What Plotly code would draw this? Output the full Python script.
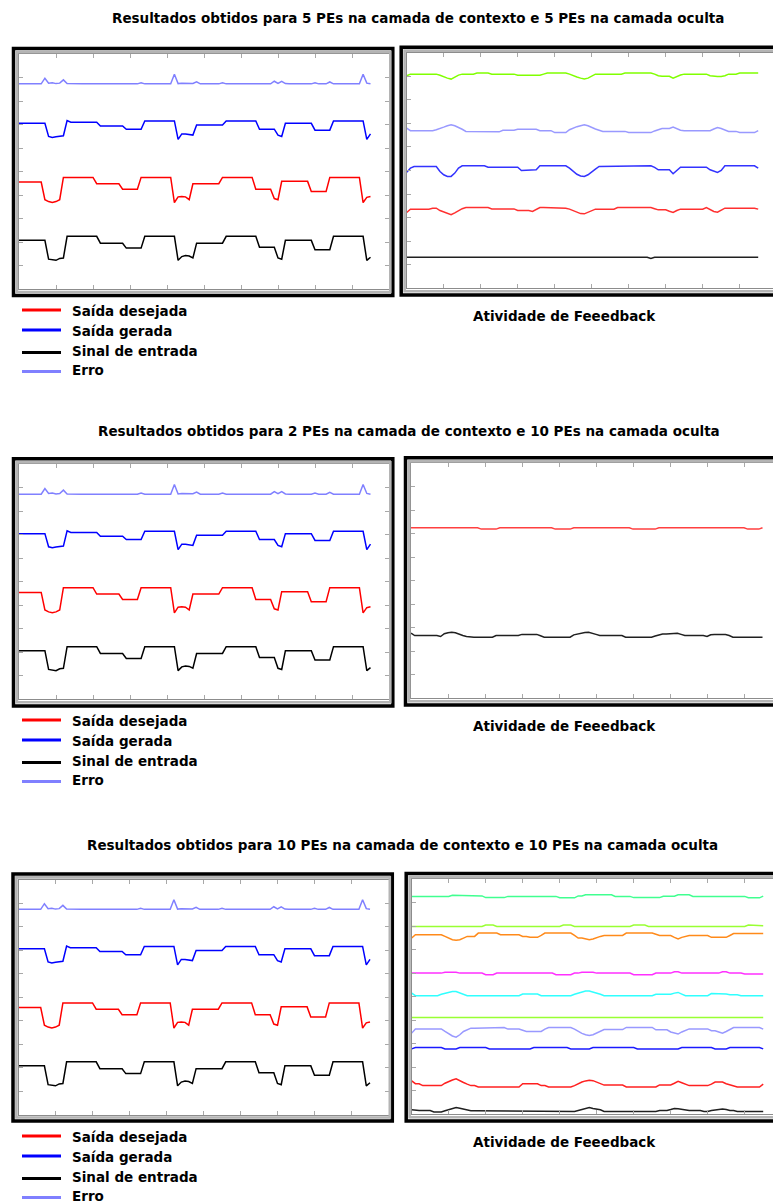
import plotly.graph_objects as go

FIG_W, FIG_H = 773, 1204

# sample index shared by every recorded trace
samples = list(range(96))

# ---- network response (left panels) ----
input_signal = ([2.07] * 8 + [1.27, 1.24, 1.22, 1.30, 1.32] + [2.24] * 9 + [1.95] * 7
                + [1.74] * 5 + [2.24] * 9 + [1.22, 1.38, 1.42, 1.40, 1.32] + [1.95] * 8
                + [2.24] * 9 + [1.78] * 5 + [1.32, 1.27] + [2.07] * 8 + [1.67] * 5
                + [2.24] * 9 + [1.22, 1.35])
desired_output = ([4.55] * 7 + [3.80, 3.72, 3.68, 3.72, 3.80] + [4.75] * 9 + [4.48] * 7
                  + [4.25] * 5 + [4.75] * 9 + [3.68, 3.92, 3.94, 3.92, 3.80] + [4.48] * 8
                  + [4.75] * 9 + [4.25] * 5 + [3.85, 3.80] + [4.58] * 8 + [4.15] * 5
                  + [4.75] * 9 + [3.68, 3.90, 3.94])
network_output = ([7.05] * 8 + [6.49, 6.45, 6.48, 6.49, 6.52] + [7.17] + [7.10] * 8
                  + [6.94] * 7 + [6.80] * 5 + [7.15] * 9 + [6.37, 6.60, 6.60, 6.58, 6.55]
                  + [6.98] * 8 + [7.15] * 9 + [6.80] * 5 + [6.55, 6.49] + [7.05] * 8
                  + [6.76] * 5 + [7.15] * 9 + [6.37, 6.60])
error_signal = ([8.73] * 7 + [8.97, 8.76, 8.78, 8.74, 8.76, 8.90, 8.74] + [8.73] * 19 + [8.78]
                + [8.73] * 8 + [9.14, 8.74, 8.76, 8.76, 8.78, 8.75, 8.82] + [8.73] * 6 + [8.78]
                + [8.73] * 8 + [8.76] + [8.73] * 4 + [8.84, 8.75, 8.84, 8.74] + [8.73] * 7
                + [8.78] + [8.73] * 3 + [8.81] + [8.73] * 8 + [9.14, 8.76, 8.73])

# ---- feedback activity, 5 context PEs ----
fb5_green = ([9.02] + [9.09] * 8 + [9.04, 8.97, 8.92, 8.88, 8.97, 9.05] + [9.09] * 4 + [9.14] * 4
             + [9.09] * 7 + [9.04] * 7 + [9.09] + [9.14] * 6
             + [9.09, 9.02, 8.97, 8.92, 8.88, 8.92, 9.00] + [9.09] * 8 + [9.14] * 8 + [9.09]
             + [9.02] + [9.00] * 3 + [8.92, 9.00, 9.05] + [9.09] * 7 + [9.02] + [8.99] * 3
             + [9.02] + [9.09] * 3 + [9.14] * 6)
fb5_lavender = ([6.80] + [6.69] * 7 + [6.73, 6.77, 6.84, 6.90, 6.94, 6.90, 6.84, 6.75] + [6.66] * 6
                + [6.64] * 4 + [6.71] * 4 + [6.75] * 6 + [6.69] * 4 + [6.61] * 4
                + [6.73, 6.80, 6.86, 6.90, 6.94, 6.90, 6.82, 6.76, 6.71] + [6.66] * 7
                + [6.61] * 7 + [6.68, 6.73] + [6.78] * 3 + [6.84, 6.78, 6.71] + [6.69] * 8
                + [6.76, 6.82, 6.78, 6.73] + [6.66] * 3 + [6.61] * 5 + [6.69])
fb5_blue = ([4.92, 5.10] + [5.17] * 7 + [4.96, 4.82, 4.75, 4.75, 4.89, 5.10] + [5.20] * 7
            + [5.14] * 9 + [5.00] * 4 + [5.03] + [5.20] * 8
            + [5.10, 4.96, 4.84, 4.77, 4.75, 4.82, 4.96, 5.06] + [5.17] * 8 + [5.20] * 7
            + [5.13] + [5.03] * 4 + [4.86, 5.00] + [5.14] * 8 + [5.03, 4.96, 4.92, 5.00]
            + [5.20] * 9 + [5.10])
fb5_red = ([3.22] + [3.36] * 6 + [3.40] * 2 + [3.30, 3.24, 3.16, 3.12, 3.20, 3.30, 3.38]
           + [3.43] * 7 + [3.37] * 7 + [3.30] * 4 + [3.26, 3.36] + [3.43] * 7
           + [3.40, 3.36, 3.30, 3.22, 3.17, 3.16, 3.22, 3.30] + [3.36] * 6 + [3.43] * 10
           + [3.38] + [3.33] * 3 + [3.27, 3.22, 3.30] + [3.36] * 7
           + [3.43, 3.33, 3.26, 3.23, 3.33] + [3.40] * 9 + [3.36])
fb5_black = [1.32] * 66 + [1.27] + [1.32] * 29

# ---- feedback activity, 2 context PEs ----
fb2_red = ([7.26] * 19 + [7.20] * 5 + [7.26] * 15 + [7.20] * 5 + [7.26] * 16 + [7.20] * 7
           + [7.26] * 24 + [7.20] * 4 + [7.26])
fb2_black = ([2.77] + [2.67] * 7 + [2.63, 2.75, 2.79, 2.81, 2.79, 2.72, 2.67, 2.63] + [2.60] * 7
             + [2.67] * 7 + [2.72] * 5 + [2.66] + [2.60] * 8
             + [2.70, 2.74, 2.77, 2.80, 2.81, 2.78, 2.72] + [2.67] * 7 + [2.60] * 8
             + [2.65, 2.71] + [2.74] * 4 + [2.77, 2.72] + [2.67] * 6 + [2.63, 2.70]
             + [2.71] * 4 + [2.67] + [2.60] * 9)

# ---- feedback activity, 10 context PEs ----
fb10_mint = ([9.26] * 11 + [9.31] * 7 + [9.28] * 2 + [9.21] * 6 + [9.26] * 14 + [9.20] * 5
             + [9.28] * 2 + [9.33] * 8 + [9.26] * 5 + [9.21] * 8 + [9.27] * 4 + [9.33] * 4
             + [9.26] * 15 + [9.20] * 4 + [9.27])
fb10_lime = ([7.98] * 20 + [8.04] * 3 + [7.98] * 18 + [8.04] * 3 + [7.98] * 16 + [8.04] * 4
             + [7.98] * 27 + [8.04] * 4 + [8.01])
fb10_orange = ([7.49] + [7.63] * 8 + [7.56, 7.49, 7.42, 7.40, 7.42, 7.49] + [7.56] * 3
               + [7.70] * 6 + [7.63] * 6 + [7.56] * 2 + [7.52] * 3 + [7.60] + [7.70] * 8
               + [7.60] + [7.49] * 2 + [7.45, 7.42, 7.45, 7.52, 7.56] + [7.60] * 6
               + [7.70] * 8 + [7.65] + [7.60] * 4 + [7.52, 7.45, 7.52, 7.56] + [7.60] * 6
               + [7.52] * 5 + [7.60] + [7.68] * 9)
fb10_magenta = ([6.00] * 9 + [6.04] * 4 + [6.00] * 7 + [5.93] * 3 + [6.00] * 16 + [5.93] * 5
                + [6.00] * 2 + [6.04] * 4 + [6.00] * 10 + [5.93] * 6 + [6.00] * 5 + [6.06] * 2
                + [6.00] * 11 + [6.06] * 2 + [6.00] * 4 + [5.96] * 6)
fb10_cyan = ([5.15] + [5.04] * 7 + [5.10, 5.15, 5.18, 5.22, 5.22, 5.15, 5.10] + [5.04] * 15
             + [5.11] * 5 + [5.04] * 9 + [5.10, 5.15, 5.18, 5.24, 5.24, 5.20, 5.15, 5.10]
             + [5.04] * 14 + [5.10] * 5 + [5.15, 5.18, 5.11] + [5.04] * 7 + [5.13] * 2
             + [5.11] * 3 + [5.08] * 3 + [5.04] * 7)
fb10_yellowgreen = [4.11] * 96
fb10_lavender = ([3.45] + [3.63] * 8 + [3.52, 3.42, 3.33, 3.28, 3.38, 3.52, 3.59] + [3.66] * 4
                 + [3.69] * 6 + [3.62] * 4 + [3.57] + [3.52] * 5 + [3.62] + [3.69] * 7
                 + [3.62, 3.52, 3.44, 3.38, 3.35, 3.38, 3.45, 3.52] + [3.60] * 6 + [3.69] * 8
                 + [3.59] * 4 + [3.50, 3.45, 3.41, 3.50, 3.57] + [3.63] * 6 + [3.55] * 2
                 + [3.50, 3.45, 3.52, 3.62] + [3.69] * 8 + [3.62])
fb10_blue = ([2.78] + [2.84] * 8 + [2.78] * 4 + [2.84] * 8 + [2.78] * 12 + [2.84] * 10
             + [2.78] * 6 + [2.84] * 12 + [2.78] * 12 + [2.84] * 9 + [2.78] * 4 + [2.84] * 9
             + [2.78])
fb10_red = ([1.42] + [1.30] * 2 + [1.22] * 6 + [1.32, 1.40, 1.46, 1.51, 1.42, 1.35, 1.28]
            + [1.22] * 2 + [1.16] * 12 + [1.30] * 5 + [1.22] * 2 + [1.16] * 7
            + [1.22, 1.30, 1.37, 1.42, 1.45, 1.43, 1.37, 1.31] + [1.24] * 6 + [1.16] * 9
            + [1.25] * 4 + [1.32, 1.40, 1.34, 1.28] + [1.22] * 6 + [1.28] + [1.37] * 3
            + [1.30, 1.25, 1.20] + [1.16] * 7 + [1.28])
fb10_black = ([0.19] + [0.16] * 5 + [0.10] * 3 + [0.15, 0.19, 0.24, 0.29, 0.26, 0.22, 0.18]
              + [0.15] * 4 + [0.12] * 25 + [0.16, 0.21, 0.25, 0.29, 0.25, 0.22, 0.19]
              + [0.12] * 15 + [0.16] * 3 + [0.20, 0.25, 0.24, 0.21, 0.19] + [0.16] * 4
              + [0.12] * 2 + [0.16, 0.18] + [0.23] * 2 + [0.20] + [0.16] * 2 + [0.12] * 8)

titles = [
    "Resultados obtidos para 5 PEs na camada de contexto e 5 PEs na camada oculta",
    "Resultados obtidos para 2 PEs na camada de contexto e 10 PEs na camada oculta",
    "Resultados obtidos para 10 PEs na camada de contexto e 10 PEs na camada oculta",
]
legend_labels = ["Saída desejada", "Saída gerada", "Sinal de entrada", "Erro"]
legend_colors = ["#ff0000", "#0000ff", "#000000", "#8080ff"]
feedback_label = "Atividade de Feeedback"

response_series = [
    (error_signal, "#8080ff"),
    (network_output, "#0000ff"),
    (desired_output, "#ff0000"),
    (input_signal, "#000000"),
]
feedback_series = [
    [(fb5_green, "#80ff00"), (fb5_lavender, "#9999ff"), (fb5_blue, "#3333ff"),
     (fb5_red, "#ff3030"), (fb5_black, "#202020")],
    [(fb2_red, "#ff4040"), (fb2_black, "#202020")],
    [(fb10_mint, "#40ff90"), (fb10_lime, "#99ff33"), (fb10_orange, "#ff8a1a"),
     (fb10_magenta, "#ff30ff"), (fb10_cyan, "#30ffff"), (fb10_yellowgreen, "#99ff33"),
     (fb10_lavender, "#9999ff"), (fb10_blue, "#1a1aff"), (fb10_red, "#ff2020"),
     (fb10_black, "#202020")],
]

# plot areas in pixels (left, top, right, bottom)
response_boxes = [(19.0, 54.0, 389.0, 289.0),
                  (19.0, 464.3, 389.0, 699.3),
                  (18.5, 879.5, 388.5, 1114.5)]
feedback_boxes = [(406.7, 52.7, 776.7, 288.3),
                  (411.0, 463.3, 781.0, 698.3),
                  (411.7, 879.0, 781.7, 1114.3)]
title_pos = [(418, 18), (408.5, 431), (403, 845)]
legend_top = [311, 721, 1137]
feedback_label_y = [316, 726, 1142]


def px(x):
    return x / FIG_W


def py(y):
    return 1 - y / FIG_H


fig = go.Figure()
shapes = []
annotations = []
TEXT_FONT = dict(family="DejaVu Sans", size=13.5, color="#000000", weight="bold")


def frame(box):
    left, top, right, bottom = box
    shapes.append(dict(type="rect", xref="paper", yref="paper", layer="above",
                       x0=px(left - 5.5), x1=px(right + 3.8),
                       y0=py(bottom + 6.6), y1=py(top - 5.5),
                       line=dict(color="#000000", width=3.5)))
    shapes.append(dict(type="rect", xref="paper", yref="paper", layer="above",
                       x0=px(left - 2.1), x1=px(right + 1.3),
                       y0=py(bottom + 3.0), y1=py(top - 2.1),
                       line=dict(color="#b4b4b4", width=2.6)))


def add_panel(idx, box, series, mirror_y=True):
    left, top, right, bottom = box
    vis_right = min(right, FIG_W)
    x_max = 100 * (vis_right - left) / (right - left)
    xname = "x" if idx == 1 else f"x{idx}"
    yname = "y" if idx == 1 else f"y{idx}"
    common = dict(showgrid=False, zeroline=False, showticklabels=False,
                  ticks="inside", ticklen=4, tickwidth=1, tickcolor="#a8a8a8",
                  showline=True, linecolor="#8c8c8c", linewidth=1, fixedrange=True)
    fig.layout["xaxis" if idx == 1 else f"xaxis{idx}"] = dict(
        domain=[px(left), px(vis_right)], range=[0, x_max], anchor=yname,
        tickmode="array", tickvals=[10, 20, 30, 40, 50, 60, 70, 80, 90],
        mirror="ticks", **common)
    fig.layout["yaxis" if idx == 1 else f"yaxis{idx}"] = dict(
        domain=[py(bottom), py(top)], range=[0, 10], anchor=xname,
        tickmode="array", tickvals=[1, 2, 3, 4, 5, 6, 7, 8, 9],
        mirror="ticks" if mirror_y else False, **common)
    for values, color in series:
        fig.add_trace(go.Scatter(x=samples[:len(values)], y=values, mode="lines",
                                 line=dict(color=color, width=1.5),
                                 xaxis=xname, yaxis=yname, hoverinfo="skip"))
    frame(box)


for row in range(3):
    add_panel(2 * row + 1, response_boxes[row], response_series)
    add_panel(2 * row + 2, feedback_boxes[row], feedback_series[row], mirror_y=False)

    tx, ty = title_pos[row]
    annotations.append(dict(text=titles[row], x=px(tx), y=py(ty), xref="paper", yref="paper",
                            xanchor="center", yanchor="middle", showarrow=False, font=TEXT_FONT))
    annotations.append(dict(text=feedback_label, x=px(564.5), y=py(feedback_label_y[row]),
                            xref="paper", yref="paper", xanchor="center", yanchor="middle",
                            showarrow=False, font=TEXT_FONT))
    base = legend_top[row]
    text_offsets = [0, 20, 39.5, 59]
    line_offsets = [-1, 19, 41.5, 60.5]
    for label, color, t_off, l_off in zip(legend_labels, legend_colors, text_offsets, line_offsets):
        shapes.append(dict(type="line", xref="paper", yref="paper",
                           x0=px(22), x1=px(61), y0=py(base + l_off), y1=py(base + l_off),
                           line=dict(color=color, width=3)))
        annotations.append(dict(text=label, x=px(70), y=py(base + t_off), xref="paper",
                                yref="paper", xanchor="left", yanchor="middle",
                                showarrow=False, font=TEXT_FONT))

fig.update_layout(width=FIG_W, height=FIG_H, autosize=False,
                  margin=dict(l=0, r=0, t=0, b=0),
                  paper_bgcolor="#ffffff", plot_bgcolor="#ffffff",
                  showlegend=False, shapes=shapes, annotations=annotations)

fig.write_html("out.html")
